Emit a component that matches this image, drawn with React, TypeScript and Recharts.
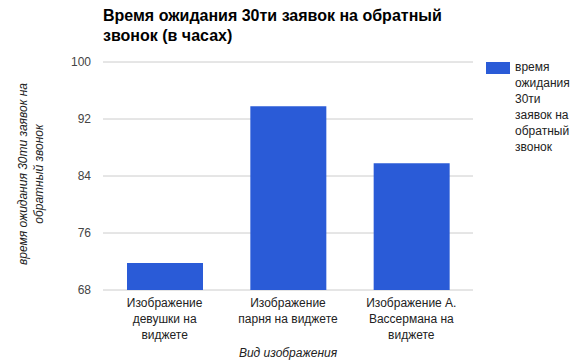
import React from 'react';
import { BarChart, Bar, XAxis, YAxis, CartesianGrid, Label } from 'recharts';

const categories = [
  'Изображение девушки на виджете',
  'Изображение парня на виджете',
  'Изображение А. Вассермана на виджете',
];
const categoryLines = [
  ['Изображение', 'девушки на', 'виджете'],
  ['Изображение', 'парня на виджете'],
  ['Изображение А.', 'Вассермана на', 'виджете'],
];
const waitHours = [71.8, 93.8, 85.8];
const yTicks = [68, 76, 84, 92, 100];

const titleLines = ['Время ожидания 30ти заявок на обратный', 'звонок (в часах)'];
const seriesName = 'время ожидания 30ти заявок на обратный звонок';
const legendLines = ['время', 'ожидания', '30ти', 'заявок на', 'обратный', 'звонок'];
const yLabelLines = ['время ожидания 30ти заявок на', 'обратный звонок'];
const xLabel = 'Вид изображения';

const FONT = '"Liberation Sans", Arial, sans-serif';
const BAR_COLOR = '#2a5bd7';

const data = categories.map((name, i) => ({ name, idx: i, value: waitHours[i] }));

// recharts already pushes the tick 8px below the axis (tickSize + tickMargin)
const XTick = (props: any) => {
  const { x, y, payload } = props;
  const lines = categoryLines[payload.index] || [payload.value];
  return (
    <text x={x} y={y + 8.5} textAnchor="middle" fontSize={12} fill="#222" fontFamily={FONT}>
      {lines.map((l, i) => (
        <tspan key={i} x={x} dy={i === 0 ? 0 : 16}>{l}</tspan>
      ))}
    </text>
  );
};

const YTick = (props: any) => {
  const { y, payload } = props;
  return (
    <text x={91} y={y} dy={4.3} textAnchor="end" fontSize={12} fill="#444" fontFamily={FONT}>
      {payload.value}
    </text>
  );
};

const YLabel = () => (
  <g>
    {yLabelLines.map((l, i) => (
      <text
        key={i}
        x={23 + i * 16}
        y={174}
        transform={`rotate(-90, ${23 + i * 16}, 174)`}
        textAnchor="middle"
        dominantBaseline="central"
        fontSize={12}
        fontStyle="italic"
        fill="#222"
        fontFamily={FONT}
      >
        {l}
      </text>
    ))}
  </g>
);

const XLabel = () => (
  <text x={288} y={357} textAnchor="middle" fontSize={12} fontStyle="italic" fill="#222" fontFamily={FONT}>
    {xLabel}
  </text>
);

export default function App() {
  return (
    <div style={{ position: 'relative', width: 587, height: 360, background: '#fff', fontFamily: FONT }}>
      <style>{'body{margin:0}'}</style>
      <BarChart
        width={587}
        height={360}
        data={data}
        margin={{ top: 62, right: 114, bottom: 40, left: 0 }}
      >
        <CartesianGrid vertical={false} stroke="#ccc" />
        <XAxis
          dataKey="name"
          height={30}
          axisLine={false}
          tickLine={false}
          interval={0}
          tick={<XTick />}
        >
          <Label content={<XLabel />} />
        </XAxis>
        <YAxis
          width={103}
          domain={[68, 100]}
          ticks={yTicks}
          axisLine={false}
          tickLine={false}
          allowDataOverflow
          tick={<YTick />}
        >
          <Label content={<YLabel />} />
        </YAxis>
        <Bar dataKey="value" name={seriesName} fill={BAR_COLOR} barSize={76} isAnimationActive={false} />
      </BarChart>
      <div
        style={{
          position: 'absolute',
          left: 103,
          top: 6,
          fontSize: 16,
          fontWeight: 'bold',
          lineHeight: '20px',
          color: '#000',
          whiteSpace: 'nowrap',
        }}
      >
        {titleLines.map((t, i) => (
          <div key={i}>{t}</div>
        ))}
      </div>
      <div style={{ position: 'absolute', left: 486, top: 62, display: 'flex' }}>
        <div style={{ width: 24, height: 12, background: BAR_COLOR, marginTop: 0 }} />
        <div style={{ marginLeft: 5, marginTop: -3, fontSize: 12, lineHeight: '16px', color: '#222' }}>
          {legendLines.map((t, i) => (
            <div key={i}>{t}</div>
          ))}
        </div>
      </div>
    </div>
  );
}
